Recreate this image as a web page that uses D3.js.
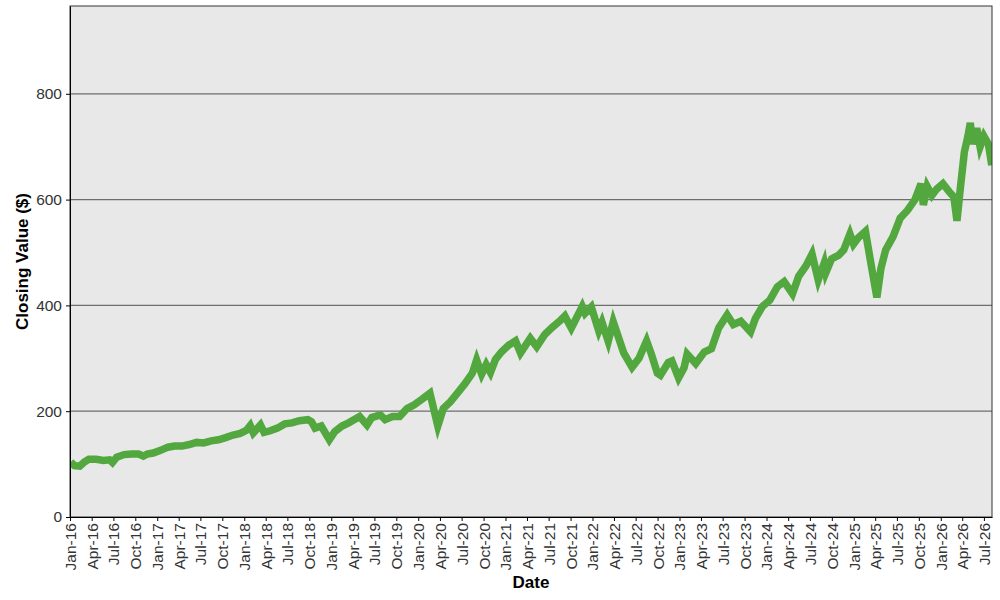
<!DOCTYPE html>
<html>
<head>
<meta charset="utf-8">
<script src="https://cdnjs.cloudflare.com/ajax/libs/d3/7.8.5/d3.min.js"></script>
<style>
  body { margin: 0; background: #fff; }
  text { font-family: "Liberation Sans", Arial, sans-serif; }
</style>
</head>
<body>
<div id="chart"></div>
<script>
// data (approximate closing values)
var dates = [
  "2016-01-04","2016-01-20","2016-02-11","2016-03-01","2016-03-20","2016-04-20","2016-05-20","2016-06-15","2016-06-27","2016-07-15",
  "2016-08-15","2016-09-15","2016-10-15","2016-11-04","2016-11-20","2016-12-15","2017-01-15","2017-02-15","2017-03-15","2017-04-15",
  "2017-05-15","2017-06-15","2017-07-15","2017-08-15","2017-09-15","2017-10-15","2017-11-15","2017-12-15","2018-01-10","2018-01-26",
  "2018-02-08","2018-03-10","2018-03-25","2018-04-20","2018-05-20","2018-06-20","2018-07-20","2018-08-20","2018-09-25","2018-10-10",
  "2018-10-25","2018-11-20","2018-12-24","2019-01-15","2019-02-15","2019-03-15","2019-04-30","2019-05-31","2019-06-20","2019-07-26",
  "2019-08-15","2019-09-15","2019-10-15","2019-11-15","2019-12-15","2020-01-15","2020-02-19","2020-03-23","2020-04-15","2020-05-15",
  "2020-06-15","2020-07-15","2020-08-15","2020-09-02","2020-09-23","2020-10-12","2020-10-30","2020-11-20","2020-12-15","2021-01-15",
  "2021-02-12","2021-03-05","2021-04-15","2021-05-12","2021-06-15","2021-07-15","2021-08-20","2021-09-07","2021-10-04","2021-11-19",
  "2021-12-01","2021-12-27","2022-01-27","2022-02-10","2022-03-08","2022-03-29","2022-05-12","2022-06-16","2022-07-15","2022-08-16",
  "2022-09-05","2022-09-30","2022-10-13","2022-11-15","2022-11-30","2022-12-28","2023-01-20","2023-02-02","2023-03-10","2023-04-15",
  "2023-05-15","2023-06-15","2023-07-20","2023-08-15","2023-09-15","2023-10-26","2023-11-15","2023-12-15","2024-01-15","2024-02-15",
  "2024-03-15","2024-04-19","2024-05-15","2024-06-15","2024-07-10","2024-08-05","2024-08-30","2024-09-06","2024-09-30","2024-10-30",
  "2024-11-20","2024-12-16","2024-12-31","2025-01-20","2025-02-19","2025-03-10","2025-04-08","2025-04-25","2025-05-15","2025-06-15",
  "2025-07-15","2025-08-15","2025-09-15","2025-10-10","2025-10-20","2025-11-05","2025-11-25","2025-12-15","2026-01-10","2026-02-05",
  "2026-02-25","2026-03-10","2026-03-25","2026-04-10","2026-04-25","2026-05-05","2026-05-15","2026-06-01","2026-06-15","2026-07-01",
  "2026-07-20","2026-08-03"
];
var closes = [
  104, 97, 96, 104, 109, 109, 107, 108, 103, 113,
  118, 119, 119, 115, 119, 121, 126, 132, 134, 134,
  137, 141, 140, 144, 146, 150, 155, 158, 164, 173,
  159, 174, 160, 163, 168, 176, 178, 182, 184, 180,
  168, 172, 146, 161, 172, 178, 190, 174, 188, 193,
  184, 190, 190, 205, 212, 222, 234, 172, 205, 218,
  235, 252, 272, 297, 270, 288, 273, 298, 312, 325,
  333, 310, 338, 322, 345, 358, 372, 380, 357, 398,
  385, 397, 352, 368, 332, 369, 310, 283, 300, 333,
  308, 272, 268, 292, 295, 263, 282, 308, 290, 312,
  318, 358, 382, 364, 370, 350, 375, 398, 410, 435,
  445, 422, 455, 475, 497, 448, 480, 462, 488, 495,
  505, 535, 516, 528, 540, 490, 415, 470, 505, 530,
  565, 580, 600, 630, 590, 625, 608, 620, 630, 615,
  605, 560, 625, 690, 720, 745, 705, 735, 700, 720,
  705, 665
];
var yTicks = [0, 200, 400, 600, 800];
var xStart = "2016-01-01", xEnd = "2026-08-04";

var width = 1000, height = 600;
var margin = {top: 6, right: 8, bottom: 83, left: 70};
var parse = d3.timeParse("%Y-%m-%d");

var data = dates.map(function(d, i) {
  return {date: parse(d), close: closes[i]};
});

var svg = d3.select("#chart")
  .append("svg")
  .attr("width", width)
  .attr("height", height);

var x = d3.scaleTime()
  .domain([parse(xStart), parse(xEnd)])
  .range([margin.left, width - margin.right]);

var y = d3.scaleLinear()
  .domain([0, 966])
  .range([height - margin.bottom, margin.top]);

// plot background
svg.append("rect")
  .attr("x", margin.left)
  .attr("y", margin.top)
  .attr("width", width - margin.left - margin.right)
  .attr("height", height - margin.top - margin.bottom)
  .attr("fill", "#e8e8e8");

// grid lines
svg.append("g")
  .selectAll("line")
  .data(yTicks.slice(1))
  .enter()
  .append("line")
  .attr("x1", margin.left)
  .attr("x2", width - margin.right)
  .attr("y1", function(d) { return y(d); })
  .attr("y2", function(d) { return y(d); })
  .attr("stroke", "#6e6e6e")
  .attr("stroke-width", 1.3);

// the series, clipped to the plot area
svg.append("clipPath").attr("id", "clip")
  .append("rect")
  .attr("x", margin.left)
  .attr("y", margin.top)
  .attr("width", width - margin.left - margin.right)
  .attr("height", height - margin.top - margin.bottom);

svg.append("path")
  .datum(data)
  .attr("clip-path", "url(#clip)")
  .attr("fill", "none")
  .attr("stroke", "#52a83e")
  .attr("stroke-width", 7.5)
  .attr("stroke-linejoin", "miter")
  .attr("d", d3.line()
    .x(function(d) { return x(d.date); })
    .y(function(d) { return y(d.close); }));

// border
svg.append("rect")
  .attr("x", margin.left)
  .attr("y", margin.top)
  .attr("width", width - margin.left - margin.right)
  .attr("height", height - margin.top - margin.bottom)
  .attr("fill", "none")
  .attr("stroke", "#333")
  .attr("stroke-width", 1);

// y axis
var yAxis = svg.append("g")
  .attr("transform", "translate(" + margin.left + ",0)")
  .call(d3.axisLeft(y).tickValues(yTicks).tickSize(4).tickSizeOuter(0).tickPadding(4));
yAxis.select(".domain").attr("stroke", "#000");
yAxis.selectAll("text")
  .attr("fill", "#333")
  .style("font-size", "15.5px");

// x axis
var xAxis = svg.append("g")
  .attr("transform", "translate(0," + (height - margin.bottom) + ")")
  .call(d3.axisBottom(x)
    .ticks(d3.timeMonth.every(3))
    .tickFormat(d3.timeFormat("%b-%y"))
    .tickSize(4)
    .tickSizeOuter(0));
xAxis.select(".domain").attr("stroke", "#000");
xAxis.selectAll("text")
  .attr("fill", "#333")
  .style("font-size", "15.5px")
  .style("text-anchor", "end")
  .attr("transform", "rotate(-90)")
  .attr("x", -6)
  .attr("y", 0)
  .attr("dy", "0.35em");

// axis titles
svg.append("text")
  .attr("x", (margin.left + width - margin.right) / 2)
  .attr("y", 588)
  .attr("text-anchor", "middle")
  .style("font-size", "17px")
  .style("font-weight", "bold")
  .text("Date");

svg.append("text")
  .attr("transform", "translate(28," + ((margin.top + height - margin.bottom) / 2) + ") rotate(-90)")
  .attr("text-anchor", "middle")
  .style("font-size", "17px")
  .style("font-weight", "bold")
  .text("Closing Value ($)");
</script>
</body>
</html>
